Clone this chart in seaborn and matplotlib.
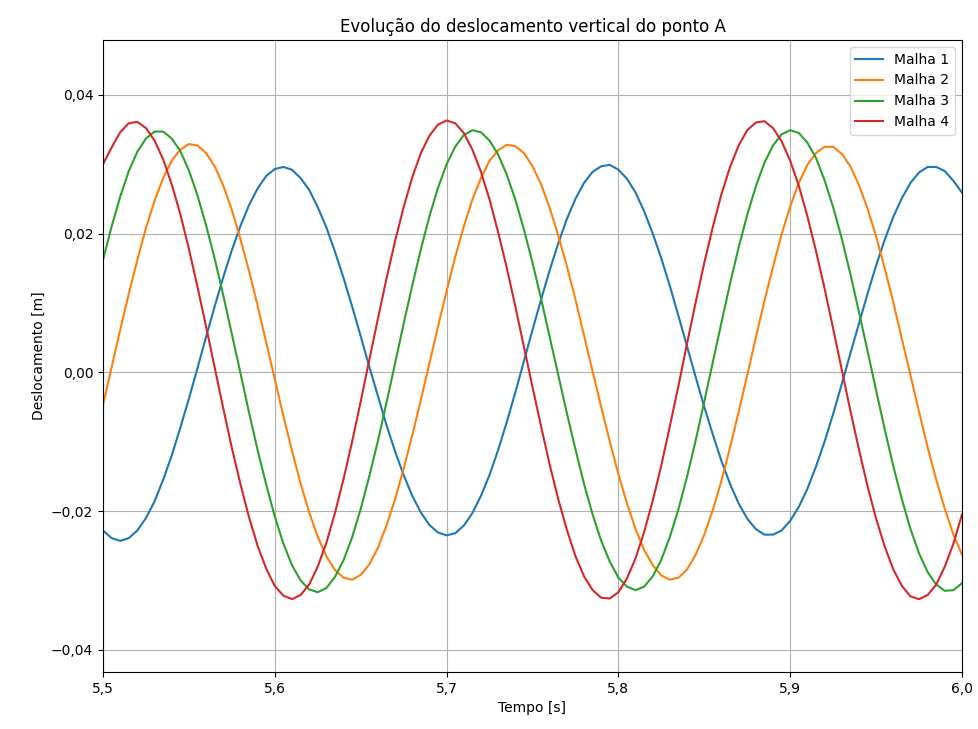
import matplotlib
matplotlib.use("Agg")
import matplotlib.pyplot as plt
from matplotlib.ticker import FuncFormatter, MultipleLocator
import seaborn as sns
import pandas as pd

# tempo [s], amostras de 0,005 s
tempo = [5.500, 5.505, 5.510, 5.515, 5.520, 5.525, 5.530, 5.535, 5.540, 5.545,
         5.550, 5.555, 5.560, 5.565, 5.570, 5.575, 5.580, 5.585, 5.590, 5.595,
         5.600, 5.605, 5.610, 5.615, 5.620, 5.625, 5.630, 5.635, 5.640, 5.645,
         5.650, 5.655, 5.660, 5.665, 5.670, 5.675, 5.680, 5.685, 5.690, 5.695,
         5.700, 5.705, 5.710, 5.715, 5.720, 5.725, 5.730, 5.735, 5.740, 5.745,
         5.750, 5.755, 5.760, 5.765, 5.770, 5.775, 5.780, 5.785, 5.790, 5.795,
         5.800, 5.805, 5.810, 5.815, 5.820, 5.825, 5.830, 5.835, 5.840, 5.845,
         5.850, 5.855, 5.860, 5.865, 5.870, 5.875, 5.880, 5.885, 5.890, 5.895,
         5.900, 5.905, 5.910, 5.915, 5.920, 5.925, 5.930, 5.935, 5.940, 5.945,
         5.950, 5.955, 5.960, 5.965, 5.970, 5.975, 5.980, 5.985, 5.990, 5.995,
         6.000]

malha_1 = [-0.0228, -0.0239, -0.0243, -0.0239, -0.0228, -0.0210, -0.0186, -0.0155, -0.0120, -0.0080,
           -0.0038, 0.0006, 0.0051, 0.0095, 0.0137, 0.0176, 0.0211, 0.0241, 0.0265, 0.0283,
           0.0293, 0.0296, 0.0292, 0.0280, 0.0263, 0.0238, 0.0209, 0.0174, 0.0136, 0.0095,
           0.0052, 0.0008, -0.0034, -0.0076, -0.0114, -0.0148, -0.0178, -0.0202, -0.0220, -0.0231,
           -0.0235, -0.0232, -0.0221, -0.0203, -0.0178, -0.0148, -0.0112, -0.0072, -0.0029, 0.0016,
           0.0061, 0.0105, 0.0147, 0.0186, 0.0221, 0.0250, 0.0273, 0.0289, 0.0297, 0.0299,
           0.0292, 0.0279, 0.0259, 0.0232, 0.0200, 0.0164, 0.0124, 0.0081, 0.0037, -0.0007,
           -0.0050, -0.0090, -0.0128, -0.0161, -0.0189, -0.0211, -0.0226, -0.0234, -0.0234, -0.0228,
           -0.0214, -0.0194, -0.0168, -0.0136, -0.0100, -0.0060, -0.0017, 0.0027, 0.0070, 0.0113,
           0.0154, 0.0191, 0.0224, 0.0251, 0.0273, 0.0288, 0.0296, 0.0296, 0.0290, 0.0276,
           0.0259]

malha_2 = [-0.0047, 0.0007, 0.0061, 0.0113, 0.0162, 0.0208, 0.0247, 0.0280, 0.0305, 0.0321,
           0.0329, 0.0327, 0.0316, 0.0297, 0.0269, 0.0234, 0.0192, 0.0146, 0.0096, 0.0043,
           -0.0010, -0.0063, -0.0113, -0.0160, -0.0202, -0.0237, -0.0265, -0.0285, -0.0296, -0.0299,
           -0.0292, -0.0277, -0.0253, -0.0221, -0.0183, -0.0139, -0.0091, -0.0040, 0.0013, 0.0066,
           0.0117, 0.0166, 0.0210, 0.0249, 0.0280, 0.0305, 0.0320, 0.0328, 0.0326, 0.0316,
           0.0297, 0.0271, 0.0237, 0.0197, 0.0153, 0.0105, 0.0053, 0.0001, -0.0050, -0.0100,
           -0.0147, -0.0189, -0.0226, -0.0256, -0.0278, -0.0293, -0.0299, -0.0296, -0.0284, -0.0263,
           -0.0234, -0.0198, -0.0156, -0.0108, -0.0057, -0.0004, 0.0050, 0.0103, 0.0152, 0.0199,
           0.0239, 0.0273, 0.0299, 0.0316, 0.0325, 0.0325, 0.0315, 0.0297, 0.0270, 0.0236,
           0.0196, 0.0150, 0.0101, 0.0048, -0.0004, -0.0057, -0.0108, -0.0155, -0.0197, -0.0234,
           -0.0263]

malha_3 = [0.0162, 0.0210, 0.0253, 0.0290, 0.0318, 0.0337, 0.0347, 0.0347, 0.0337, 0.0319,
           0.0291, 0.0255, 0.0212, 0.0164, 0.0111, 0.0055, -0.0001, -0.0058, -0.0112, -0.0162,
           -0.0208, -0.0247, -0.0278, -0.0300, -0.0313, -0.0317, -0.0311, -0.0295, -0.0271, -0.0238,
           -0.0197, -0.0150, -0.0099, -0.0044, 0.0013, 0.0070, 0.0125, 0.0177, 0.0225, 0.0266,
           0.0300, 0.0325, 0.0342, 0.0349, 0.0346, 0.0334, 0.0314, 0.0285, 0.0249, 0.0206,
           0.0158, 0.0106, 0.0051, -0.0004, -0.0059, -0.0111, -0.0161, -0.0205, -0.0243, -0.0273,
           -0.0296, -0.0309, -0.0314, -0.0309, -0.0294, -0.0270, -0.0237, -0.0197, -0.0150, -0.0098,
           -0.0042, 0.0015, 0.0072, 0.0128, 0.0180, 0.0227, 0.0268, 0.0302, 0.0327, 0.0343,
           0.0349, 0.0345, 0.0331, 0.0309, 0.0277, 0.0238, 0.0193, 0.0142, 0.0087, 0.0031,
           -0.0026, -0.0082, -0.0135, -0.0183, -0.0226, -0.0261, -0.0288, -0.0306, -0.0315, -0.0314,
           -0.0304]

malha_4 = [0.0300, 0.0324, 0.0346, 0.0359, 0.0361, 0.0352, 0.0334, 0.0307, 0.0271, 0.0228,
           0.0178, 0.0123, 0.0066, 0.0007, -0.0052, -0.0109, -0.0161, -0.0209, -0.0250, -0.0283,
           -0.0308, -0.0322, -0.0327, -0.0321, -0.0306, -0.0280, -0.0246, -0.0203, -0.0154, -0.0100,
           -0.0042, 0.0018, 0.0077, 0.0135, 0.0189, 0.0238, 0.0281, 0.0316, 0.0341, 0.0357,
           0.0363, 0.0359, 0.0345, 0.0321, 0.0289, 0.0249, 0.0202, 0.0151, 0.0095, 0.0037,
           -0.0021, -0.0078, -0.0133, -0.0183, -0.0227, -0.0265, -0.0294, -0.0314, -0.0325, -0.0326,
           -0.0317, -0.0297, -0.0268, -0.0230, -0.0185, -0.0134, -0.0077, -0.0019, 0.0042, 0.0101,
           0.0158, 0.0210, 0.0257, 0.0296, 0.0327, 0.0349, 0.0360, 0.0362, 0.0352, 0.0333,
           0.0305, 0.0269, 0.0225, 0.0175, 0.0121, 0.0063, 0.0004, -0.0055, -0.0111, -0.0164,
           -0.0211, -0.0251, -0.0284, -0.0308, -0.0323, -0.0327, -0.0321, -0.0306, -0.0280, -0.0247,
           -0.0205]

nomes = ["Malha 1", "Malha 2", "Malha 3", "Malha 4"]
series = [malha_1, malha_2, malha_3, malha_4]
cores = sns.color_palette("tab10", 4)


def fmt_virgula(v, pos, casas):
    s = f"{v:.{casas}f}".replace(".", ",")
    return s.replace("-", "\u2212")


fig = plt.figure(figsize=(9.79, 7.29), dpi=100)
ax = fig.add_subplot(111)
fig.subplots_adjust(left=103 / 979, right=962 / 979, top=1 - 40 / 729, bottom=1 - 672 / 729)

for nome, valores, cor in zip(nomes, series, cores):
    df = pd.DataFrame({"Tempo": tempo, "Deslocamento": valores})
    sns.lineplot(data=df, x="Tempo", y="Deslocamento", ax=ax, color=cor,
                 label=nome, linewidth=1.5)

ax.set_xlim(5.5, 6.0)
ax.set_ylim(-0.0432, 0.0479)
ax.xaxis.set_major_locator(MultipleLocator(0.1))
ax.yaxis.set_major_locator(MultipleLocator(0.02))
ax.xaxis.set_major_formatter(FuncFormatter(lambda v, p: fmt_virgula(v, p, 1)))
ax.yaxis.set_major_formatter(FuncFormatter(lambda v, p: fmt_virgula(v, p, 2)))
ax.grid(True, color="#b0b0b0", linewidth=0.8)

ax.set_title("Evolução do deslocamento vertical do ponto A", fontsize=12)
ax.set_xlabel("Tempo [s]")
ax.set_ylabel("Deslocamento [m]")
ax.legend(loc="upper right")

plt.savefig("out.png", dpi=100)
